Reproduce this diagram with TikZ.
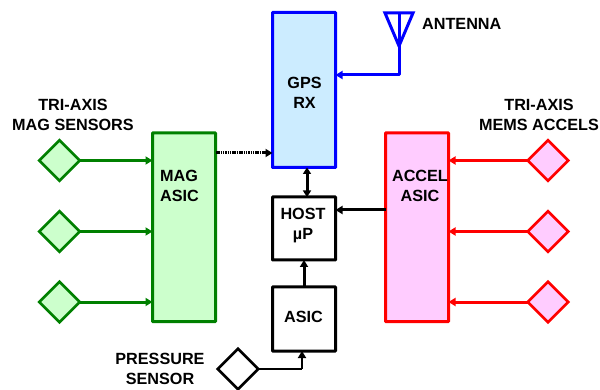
\documentclass[tikz,border=0pt]{standalone}
\usepackage{fontspec}
\setmainfont{Liberation Sans}
\usetikzlibrary{shapes.geometric,arrows.meta}
\definecolor{dgreen}{RGB}{0,128,0}
\definecolor{lgreen}{RGB}{204,255,204}
\definecolor{lblue}{RGB}{204,236,255}
\definecolor{lpink}{RGB}{255,204,255}
\tikzset{
 x=1pt,y=-1pt,
 blockbox/.style={rectangle,draw,line width=3pt,minimum width=63pt,inner sep=0pt,outer sep=0pt,anchor=north west,rounded corners=0.5pt},
 sensor/.style={diamond,draw,line width=2.6pt,minimum width=40.6pt,minimum height=40.6pt,inner sep=0pt,outer sep=0pt,aspect=1},
 lbl/.style={font=\bfseries\fontsize{16.2}{20}\selectfont,align=center,inner sep=0pt,text=black},
 flow/.style={line width=3pt,-{Triangle[length=7pt,width=8pt]}},
}
\begin{document}
\begin{tikzpicture}
\useasboundingbox (0,0) rectangle (600,390);
% blocks
\node[blockbox,draw=dgreen,fill=lgreen,minimum height=188.5pt] (mag) at (152.5,133) {};
\node[blockbox,draw=blue,fill=lblue,minimum height=155pt] (gps) at (272.5,12.5) {};
\node[blockbox,draw=black,fill=white,minimum height=63pt] (host) at (272.5,197) {};
\node[blockbox,draw=black,fill=white,minimum height=64pt] (asic) at (272.5,287) {};
\node[blockbox,draw=red,fill=lpink,minimum height=188.5pt] (accel) at (385.5,133) {};
% sensors
\foreach \n/\y in {m1/160.5,m2/231.5,m3/302}
  \node[sensor,draw=dgreen,fill=lgreen] (\n) at (59.5,\y) {};
\foreach \n/\y in {a1/160.5,a2/231.5,a3/302}
  \node[sensor,draw=red,fill=lpink] (\n) at (548,\y) {};
\node[sensor,draw=black,fill=white] (press) at (238,369) {};
% connectors
\foreach \n in {m1,m2,m3}
  \draw[flow,draw=dgreen] (\n.east) -- (\n.east -| mag.west);
\foreach \n in {a1,a2,a3}
  \draw[flow,draw=red] (\n.west) -- (\n.west -| accel.east);
% antenna
\coordinate (ant1) at (385,13);
\coordinate (ant2) at (413,13);
\coordinate (anttip) at (399,46);
\coordinate (antmid) at (399,13);
\coordinate (antcorner) at (399,75);
\draw[blue,line width=3pt,line join=miter] (ant1) -- (ant2) -- (anttip) -- cycle;
\draw[blue,line width=3pt] (antmid) -- (anttip);
\draw[flow,draw=blue,line join=round] (anttip) -- (antcorner) -- (antcorner -| gps.east);
% dotted
\coordinate (dots) at (216,153);
\coordinate (dote) at (265,153);
\draw[line width=3pt,dash pattern=on 1.5pt off 0.8pt,black] (dots) -- (dote);
\draw[line width=3pt,-{Triangle[length=7pt,width=8pt]}] (dote) -- (dote -| gps.west);
% black arrows
\draw[line width=3pt,{Triangle[length=6.5pt,width=8pt]}-{Triangle[length=6.5pt,width=8pt]}] (gps.south -| 307,0) -- (host.north -| 307,0);
\draw[flow] (accel.west |- 0,210) -- (host.east |- 0,210);
\draw[flow] (asic.north -| 304,0) -- (host.south -| 304,0);
\coordinate (pcorner) at (302,369);
\draw[line width=1.5pt] (press.east) -- (pcorner);
\draw[line width=2.2pt,-{Triangle[length=7pt,width=8pt]}] (pcorner) -- (asic.south -| pcorner);
% labels
\node[lbl,anchor=center] (tm) at (73,114.5) {TRI-AXIS\\MAG SENSORS};
\node[lbl] (ta) at (539,114.5) {TRI-AXIS\\MEMS ACCELS};
\node[lbl,align=left,anchor=west] (lm) at (160,185.5) {MAG\\ASIC};
\node[lbl] (la) at (420,185.5) {ACCEL\\ASIC};
\node[lbl] (lg) at (304.5,93) {GPS\\RX};
\node[lbl] (lh) at (303,225.5) {HOST\\µP};
\node[lbl] (ls) at (303.5,317) {ASIC};
\node[lbl,anchor=west] (lan) at (422,24) {ANTENNA};
\node[lbl] (lp) at (160,368.5) {PRESSURE\\SENSOR};
\end{tikzpicture}
\end{document}
